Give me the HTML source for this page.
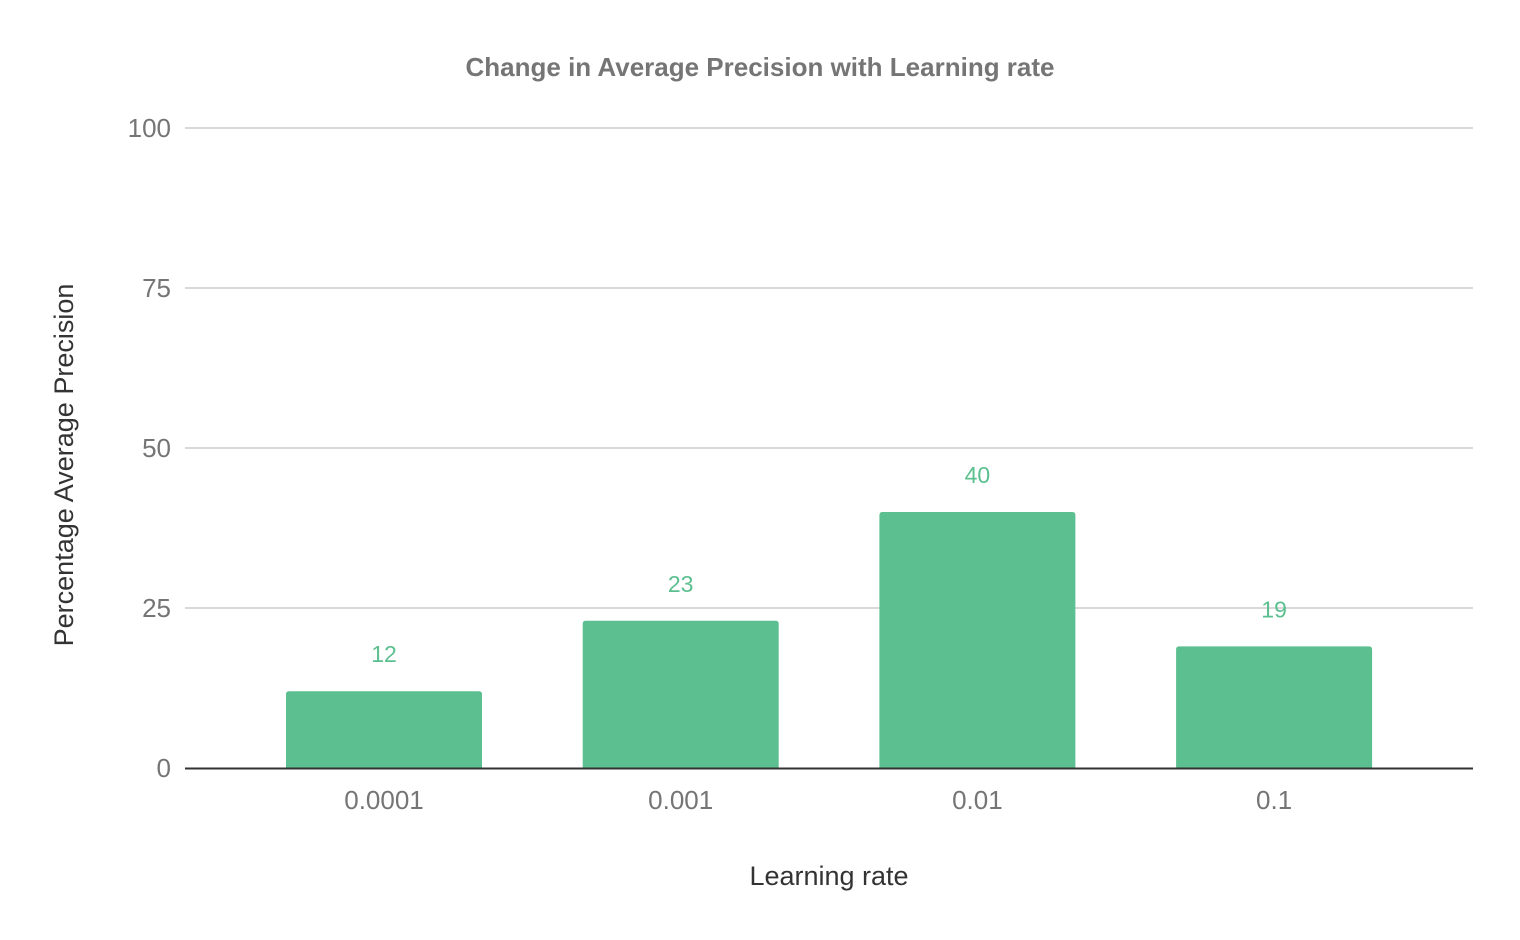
<!DOCTYPE html>
<html><head><meta charset="utf-8"><style>
html,body{margin:0;padding:0;background:#fff;}
svg{display:block;font-family:"Liberation Sans",Roboto,sans-serif;}
</style></head><body>
<svg id="chart" width="1520" height="940" viewBox="0 0 1520 940" xmlns="http://www.w3.org/2000/svg">
<rect width="1520" height="940" fill="#fff"/>
<text x="760" y="76" text-anchor="middle" font-size="26" font-weight="bold" fill="#757575">Change in Average Precision with Learning rate</text>
<g id="grid"></g>
<g id="bars"></g>
<text x="829" y="885" text-anchor="middle" font-size="27" fill="#333">Learning rate</text>
<text transform="translate(73,465) rotate(-90)" text-anchor="middle" font-size="27" fill="#333">Percentage Average Precision</text>
</svg>
<script>
const categories = ["0.0001","0.001","0.01","0.1"];
const values = [12, 23, 40, 19];
const yTicks = [0, 25, 50, 75, 100];

const NS = "http://www.w3.org/2000/svg";
const y = v => 768 - v * 6.4;
const x = i => 384 + i * 296.7;
const barW = 196;
const grid = document.getElementById("grid");
const bars = document.getElementById("bars");
function mk(tag, attrs, parent, text){
  const e = document.createElementNS(NS, tag);
  for (const k in attrs) e.setAttribute(k, attrs[k]);
  if (text !== undefined) e.textContent = text;
  parent.appendChild(e);
  return e;
}
yTicks.forEach(t => {
  if (t !== 0) {
    const l = mk("line", {x1:185, x2:1473, y1:y(t), y2:y(t), stroke:"#cccccc", "stroke-width":1.5}, grid);
    
    
  }
  const tx = mk("text", {x:171, y:y(t)+9, "text-anchor":"end", "font-size":26, fill:"#757575"}, grid, String(t));
  
  
});
categories.forEach((c, i) => {
  const v = values[i];
  const top = y(v), r = 3;
  const x0 = x(i) - barW/2, x1 = x(i) + barW/2;
  const p = mk("path", {d:`M${x0},768 V${top+r} Q${x0},${top} ${x0+r},${top} H${x1-r} Q${x1},${top} ${x1},${top+r} V768 Z`, fill:"#5bbf8f"}, bars);
  
  
  const lbl = mk("text", {x:x(i), y:top-29, "text-anchor":"middle", "font-size":23, fill:"#5bbf8f"}, bars, String(v));
  
  
  const xl = mk("text", {x:x(i), y:809, "text-anchor":"middle", "font-size":26, fill:"#757575"}, bars, c);
  
  
});
const ax = mk("line", {x1:185, x2:1473, y1:768.5, y2:768.5, stroke:"#333", "stroke-width":2}, bars);


</script>
</body></html>
